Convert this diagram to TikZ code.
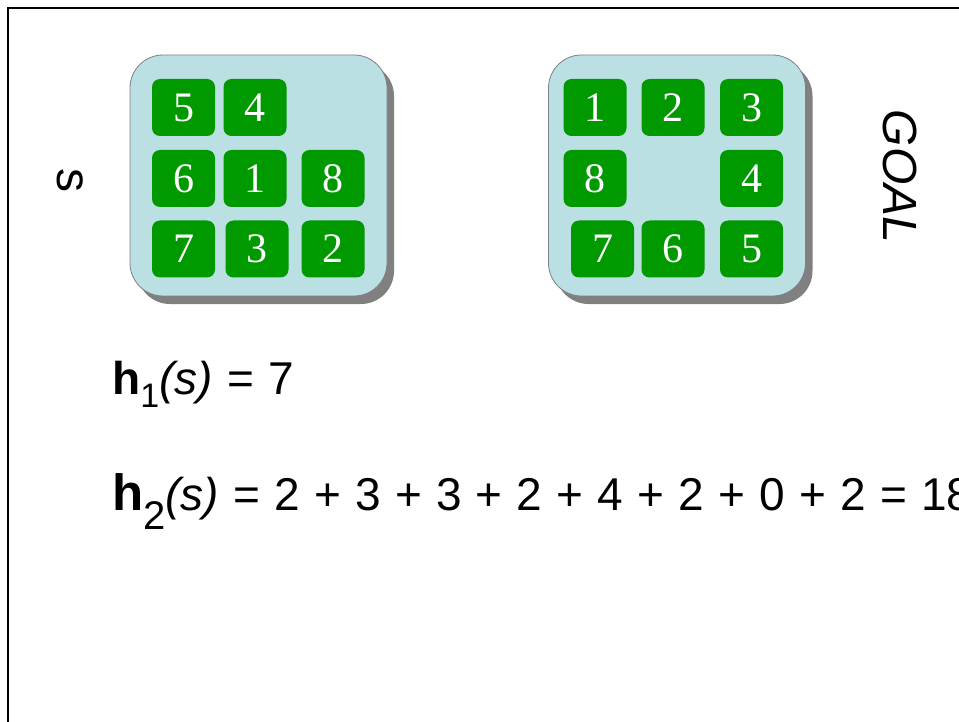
\documentclass[tikz,border=0pt]{standalone}
\usepackage{fontspec}
\setmainfont{Liberation Sans}
\newfontfamily\tilefont{Liberation Serif}
\usetikzlibrary{shadows}
\definecolor{boardblue}{RGB}{187,224,227}
\definecolor{tilegreen}{RGB}{0,153,0}
\definecolor{shadowgray}{RGB}{128,128,128}
\newcommand{\bigtext}{\fontsize{46}{52}\selectfont\spaceskip=14.2pt}
\newcommand{\hsub}[3]{\raisebox{-#2pt}{\fontsize{#3}{#3}\selectfont #1}}
\tikzset{
  board/.style   = {rectangle, draw=shadowgray, line width=0.8pt, fill=boardblue, rounded corners=33pt,
                    minimum width=257pt, minimum height=241pt,
                    drop shadow={shadow xshift=7pt, shadow yshift=-8pt, fill=shadowgray, opacity=1}},
  tile/.style    = {rectangle, fill=tilegreen, rounded corners=8pt, minimum width=63pt, minimum height=57pt,
                    inner sep=0, text=white, font=\tilefont\fontsize{42}{44}\selectfont},
  lab/.style     = {inner sep=0, rotate=-90, font=\fontsize{48}{52}\selectfont},
  formula/.style = {inner sep=0, anchor=base west, font=\bigtext}
}
\begin{document}
\begin{tikzpicture}[x=1pt, y=-1pt]
  \useasboundingbox (0,0) rectangle (959,722);
  \clip (0,0) rectangle (959,722);
  \draw[line width=2pt] (8,740) -- (8,8) -- (980,8);
  % start state s
  \node[lab] (s) at (70,181) {s};
  \node[board] (S) at (258.5,175.5) {};
  \node[tile] (s5) at (183.5,107.5) {5}; \node[tile] (s4) at (255,107.5) {4};
  \node[tile] (s6) at (183.5,178.5) {6}; \node[tile] (s1) at (255,178.5) {1}; \node[tile] (s8) at (333,178.5) {8};
  \node[tile] (s7) at (183.5,249) {7};   \node[tile] (s3) at (257,249) {3};   \node[tile] (s2) at (333,249) {2};
  % goal state
  \node[board] (G) at (677,175.5) {};
  \node[tile] (g1) at (595,107.5) {1}; \node[tile] (g2) at (673,107.5) {2}; \node[tile] (g3) at (751.5,107.5) {3};
  \node[tile] (g8) at (595,178.5) {8};                                      \node[tile] (g4) at (751.5,178.5) {4};
  \node[tile] (g7) at (602.5,249) {7}; \node[tile] (g6) at (673,249) {6};   \node[tile] (g5) at (751.5,249) {5};
  \node[lab, font=\fontsize{48}{52}\selectfont\itshape] (goal) at (900.5,176.5) {GOAL};
  % heuristics
  \node[formula] (h1) at (112,394) {\textbf{h}\hsub{1}{13}{34}\textit{(s)} = 7};
  \node[formula] (h2) at (112,510) {{\fontsize{51}{52}\selectfont\textbf{h}}\hsub{2}{19}{40}\textit{(s)} = 2 + 3 + 3 + 2 + 4 + 2 + 0 + 2 = 18};
\end{tikzpicture}
\end{document}
